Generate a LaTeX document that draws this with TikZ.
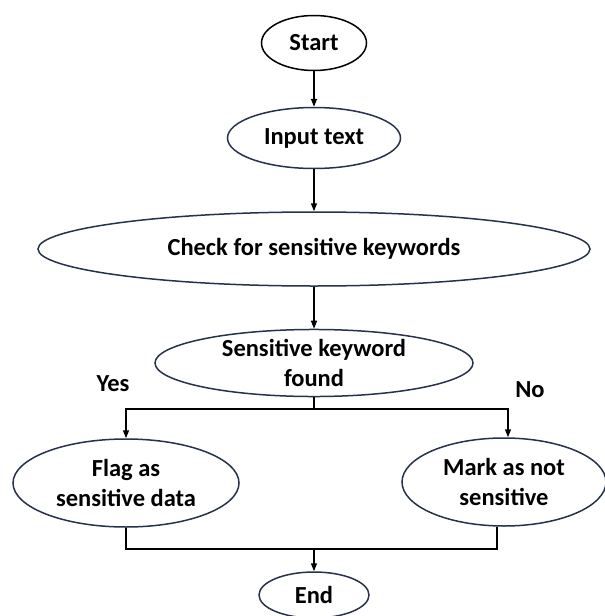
\documentclass[tikz,border=0pt]{standalone}
\usepackage{fontspec}
\setmainfont{Carlito}
\usetikzlibrary{shapes.geometric,arrows.meta}
\definecolor{edgenavy}{HTML}{26324A}
\begin{document}
\begin{tikzpicture}[x=1pt,y=-1pt,
  oval/.style={ellipse,draw=edgenavy,line width=1.5pt,inner sep=0pt,align=center,
    font=\fontsize{24.5}{30}\selectfont\bfseries},
  conn/.style={draw=black,line width=1.5pt},
  arr/.style={conn,-{Triangle[length=8pt,width=6pt]}},
  lbl/.style={font=\fontsize{24.5}{28}\selectfont\bfseries,inner sep=0pt}]
\useasboundingbox (0,0) rectangle (605,616);
\node[oval,draw=black,minimum width=105pt,minimum height=55pt] (start) at (314,43) {Start};
\node[oval,minimum width=173pt,minimum height=61pt] (input) at (314,138) {Input text};
\node[oval,minimum width=552pt,minimum height=74pt] (check) at (314,249) {Check for sensitive keywords};
\node[oval,minimum width=318pt,minimum height=62pt] (sk) at (314,363) {Sensitive keyword\\found};
\node[oval,minimum width=226pt,minimum height=88pt] (flag) at (126,483) {Flag as\\sensitive data};
\node[oval,minimum width=204pt,minimum height=88pt] (mark) at (504,482) {Mark as not\\sensitive};
\node[oval,minimum width=110pt,minimum height=46pt] (end) at (314,595) {End};
\node[lbl] (yes) at (113,384) {Yes};
\node[lbl] (no) at (530,390) {No};
\coordinate (split) at (314,409);
\coordinate (merge) at (314,549);
\draw[arr] (start.south) -- (input.north);
\draw[arr] (input.south) -- (check.north);
\draw[arr] (check.south) -- (sk.north);
\draw[conn] (sk.south) -- (split);
\draw[arr] (split) -| (flag.north);
\draw[arr] (split) -| ([xshift=4pt]mark.north);
\draw[conn] (flag.south) |- (merge);
\draw[conn] ([xshift=-7pt]mark.south) |- (merge);
\draw[arr] (merge) -- (end.north);
\end{tikzpicture}
\end{document}
